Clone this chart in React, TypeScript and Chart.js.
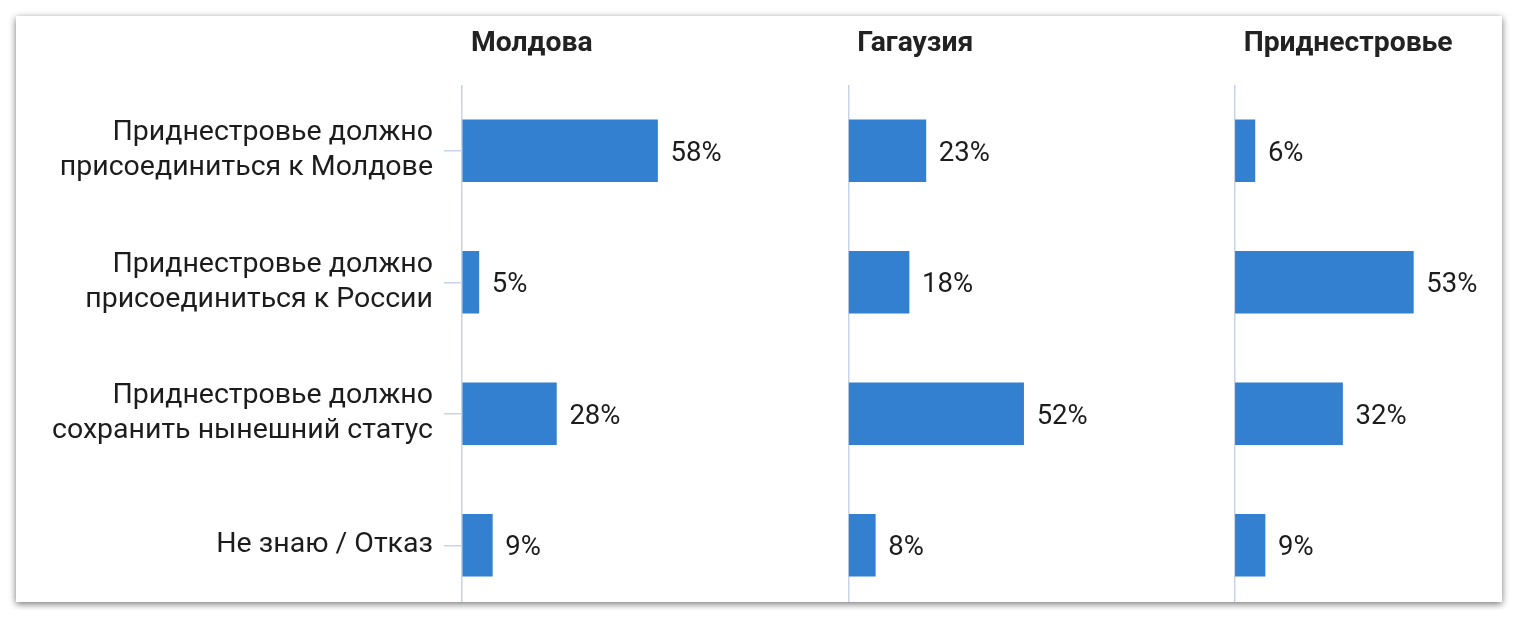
import React, { useEffect, useRef } from "react";
import { Chart, registerables } from "chart.js";

Chart.register(...registerables);

const categories: string[][] = [
  ["Приднестровье должно", "присоединиться к Молдове"],
  ["Приднестровье должно", "присоединиться к России"],
  ["Приднестровье должно", "сохранить нынешний статус"],
  ["Не знаю / Отказ"],
];

const panelTitles = ["Молдова", "Гагаузия", "Приднестровье"];

const moldova = [58, 5, 28, 9];
const gagauzia = [23, 18, 52, 8];
const pridnestrovie = [6, 53, 32, 9];

const seriesList = [moldova, gagauzia, pridnestrovie];
// stacked top axes are laid out right-to-left in declaration order
const axisIds = ["x2", "x1", "x0"];

const BAR_COLOR = "#3380D0";
const AXIS_COLOR = "#C9D3E8";
const TEXT_COLOR = "#1c1c1c";
const FONT = "Roboto";

const panelTitlesPlugin = {
  id: "panelTitles",
  afterDraw(chart: any) {
    const ctx = chart.ctx;
    ctx.save();
    ctx.font = `bold 28.3px ${FONT}`;
    ctx.fillStyle = "#222222";
    ctx.textAlign = "left";
    ctx.textBaseline = "middle";
    panelTitles.forEach((t, i) => {
      const sc = chart.getDatasetMeta(i).xScale;
      ctx.fillText(t, sc.left + 9, 28);
    });
    ctx.restore();
  },
};

const valueLabelsPlugin = {
  id: "valueLabels",
  afterDatasetsDraw(chart: any) {
    const ctx = chart.ctx;
    ctx.save();
    ctx.font = `27.5px ${FONT}`;
    ctx.fillStyle = TEXT_COLOR;
    ctx.textAlign = "left";
    ctx.textBaseline = "middle";
    chart.data.datasets.forEach((ds: any, di: number) => {
      const meta = chart.getDatasetMeta(di);
      meta.data.forEach((el: any, i: number) => {
        ctx.fillText(ds.data[i] + "%", el.x + 13, el.y + 3);
      });
    });
    ctx.restore();
  },
};

export default function App() {
  const ref = useRef<HTMLCanvasElement | null>(null);

  useEffect(() => {
    if (!ref.current) return;
    const xScale = () => ({
      type: "linear",
      position: "top",
      stack: "panels",
      stackWeight: 1,
      min: 0,
      max: 114.6,
      ticks: { display: false },
      grid: {
        drawTicks: false,
        color: (c: any) => (c.tick && c.tick.value === 0 ? AXIS_COLOR : "rgba(0,0,0,0)"),
        lineWidth: 1.5,
      },
      border: { display: false },
      afterFit: (s: any) => {
        s.height = 69;
      },
    });
    const chart = new Chart(ref.current, {
      type: "bar",
      data: {
        labels: categories,
        datasets: seriesList.map((d, i) => ({
          label: panelTitles[i],
          data: d,
          xAxisID: axisIds[i],
          yAxisID: "y",
          backgroundColor: BAR_COLOR,
          borderWidth: 0,
          barThickness: 62,
          grouped: false,
        })),
      },
      options: {
        indexAxis: "y",
        responsive: false,
        animation: false,
        devicePixelRatio: 1,
        layout: { padding: 0 },
        plugins: {
          legend: { display: false },
          tooltip: { enabled: false },
          title: { display: false },
        },
        scales: {
          x0: xScale(),
          x1: xScale(),
          x2: xScale(),
          y: {
            type: "category",
            position: "left",
            offset: true,
            grid: {
              offset: false,
              drawOnChartArea: false,
              drawTicks: true,
              tickLength: 18,
              color: AXIS_COLOR,
              lineWidth: 1.5,
            },
            border: { display: false },
            ticks: {
              padding: 11,
              color: TEXT_COLOR,
              font: { family: FONT, size: 28.5, lineHeight: 1.23 },
            },
            afterFit: (s: any) => {
              s.width = 446;
              s.paddingTop = 0;
              s.paddingBottom = 0;
            },
          },
        },
      } as any,
      plugins: [panelTitlesPlugin, valueLabelsPlugin],
    } as any);
    return () => chart.destroy();
  }, []);

  return (
    <div style={{ padding: 8 }}>
      <div
        style={{
          width: 1486,
          height: 586,
          overflow: "hidden",
          background: "#ffffff",
          boxShadow: "0 2px 7px rgba(0,0,0,0.55)",
          position: "relative",
        }}
      >
        <canvas ref={ref} width={1605} height={595} style={{ display: "block" }} />
      </div>
    </div>
  );
}
